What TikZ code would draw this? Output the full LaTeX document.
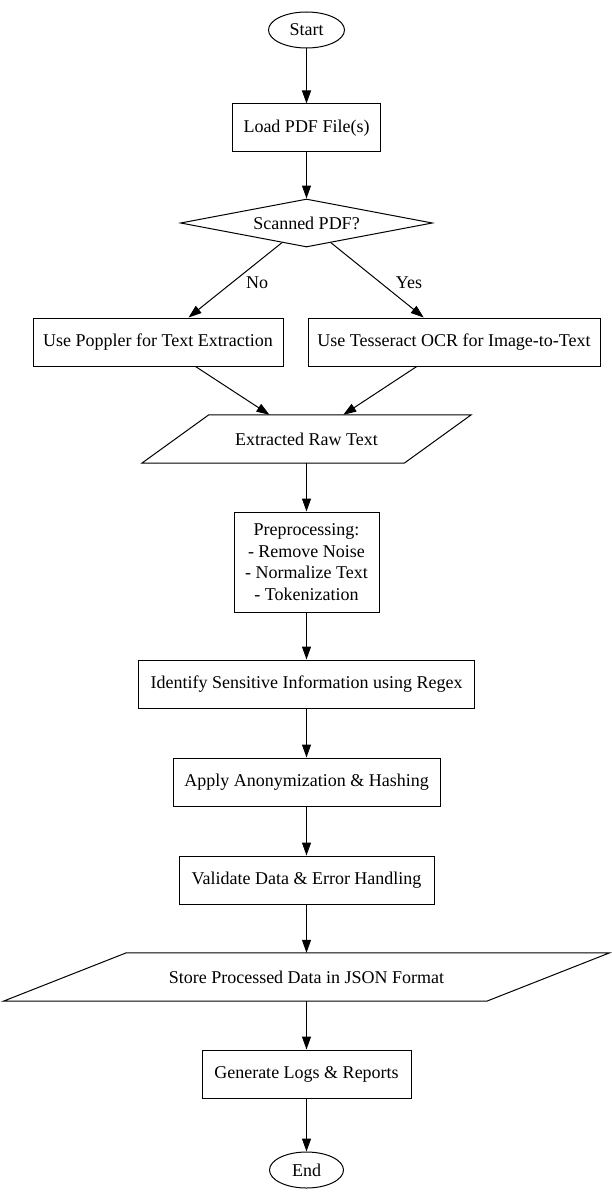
\documentclass[tikz,border=0pt]{standalone}
\usepackage{fontspec}
\setmainfont{Liberation Serif}
\usetikzlibrary{shapes.geometric,arrows.meta}
\begin{document}
\begin{tikzpicture}[x=1pt,y=-1pt,
  every node/.style={font=\fontsize{18}{21.7}\selectfont, inner sep=0pt},
  proc/.style={draw, line width=1pt, rectangle, align=center},
  term/.style={draw, line width=1pt, ellipse, minimum width=76pt, minimum height=36pt},
  io/.style={rectangle, minimum height=48pt},
  arr/.style={-{Triangle[length=13pt,width=9pt]}, line width=1pt},
  lbl/.style={font=\fontsize{18}{20}\selectfont}]
\useasboundingbox (0,0) rectangle (612,1201);
\node[term] (start) at (306.5,30) {Start};
\node[proc, minimum width=148pt, minimum height=48pt] (load) at (306.5,128) {Load PDF File(s)};
\node[draw, line width=1pt, diamond, aspect=5.25, minimum width=252pt, minimum height=48pt] (scan) at (306.5,223) {Scanned PDF?};
\node[proc, minimum width=250pt, minimum height=48pt] (pop) at (158,342) {Use Poppler for Text Extraction};
\node[proc, minimum width=292pt, minimum height=48pt] (tes) at (454,342) {Use Tesseract OCR for Image-to-Text};
\node[io, minimum width=329pt] (raw) at (306.5,439) {Extracted Raw Text};
\draw[line width=1pt] ([xshift=67pt]raw.north west) -- (raw.north east) -- ([xshift=-67pt]raw.south east) -- (raw.south west) -- cycle;
\node[proc, minimum width=145pt, minimum height=100pt] (pre) at (306.5,562) {Preprocessing:\\- Remove Noise\\- Normalize Text\\- Tokenization};
\node[proc, minimum width=336pt, minimum height=48pt] (ident) at (306.5,684) {Identify Sensitive Information using Regex};
\node[proc, minimum width=267pt, minimum height=48pt] (anon) at (306.5,782) {Apply Anonymization \& Hashing};
\node[proc, minimum width=255pt, minimum height=48pt] (valid) at (306.5,880) {Validate Data \& Error Handling};
\node[io, minimum width=606pt] (store) at (306.5,977) {Store Processed Data in JSON Format};
\draw[line width=1pt] ([xshift=123pt]store.north west) -- (store.north east) -- ([xshift=-123pt]store.south east) -- (store.south west) -- cycle;
\node[proc, minimum width=209pt, minimum height=48pt] (logs) at (306.5,1074) {Generate Logs \& Reports};
\node[term, minimum width=74pt] (end) at (306.5,1170) {End};

\draw[arr] (start) -- (load);
\draw[arr] (load) -- (scan);
\draw[arr] (scan) -- (pop);
\draw[arr] (scan) -- (tes);
\node[lbl] at (257,283) {No};
\node[lbl] at (409,283) {Yes};
\draw[arr] (pop) -- (raw);
\draw[arr] (tes) -- (raw);
\draw[arr] (raw) -- (pre);
\draw[arr] (pre) -- (ident);
\draw[arr] (ident) -- (anon);
\draw[arr] (anon) -- (valid);
\draw[arr] (valid) -- (store);
\draw[arr] (store) -- (logs);
\draw[arr] (logs) -- (end);
\end{tikzpicture}
\end{document}
